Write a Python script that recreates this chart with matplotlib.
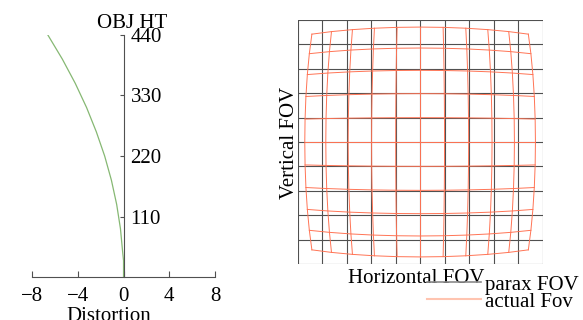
import matplotlib
matplotlib.use('Agg')
import matplotlib.pyplot as plt
import matplotlib.transforms as mtransforms
import numpy as np
from matplotlib.lines import Line2D

plt.rcParams['font.family'] = ['Liberation Serif', 'DejaVu Serif']

# distortion curve (percent) vs object height
obj_ht = [0, 30, 44, 88, 132, 176, 220, 264, 308, 352, 396, 440]
distortion = [0, 0, -0.07, -0.27, -0.6, -1.06, -1.65, -2.38, -3.23, -4.22, -5.35, -6.62]
x_ticks = [-8, -4, 0, 4, 8]
x_labels = ['\u22128', '\u22124', '0', '4', '8']
y_ticks = [110, 220, 330, 440]

# grid (normalized field), distortion read at edge of field
grid_pos = [-1.0, -0.8, -0.6, -0.4, -0.2, 0.0, 0.2, 0.4, 0.6, 0.8, 1.0]
edge_dist = -0.058

grey = '#505050'
red = '#ff7455'
fs = 15

fig = plt.figure(figsize=(5.83, 3.2), dpi=100)

# left: distortion plot
ax1 = fig.add_axes([0.0549, 0.134, 0.314, 0.757])
ax1.plot(distortion, obj_ht, color='#86b873', lw=0.9)
ax1.set_xlim(-8, 8)
ax1.set_ylim(0, 440)
for s in ['top', 'right']:
    ax1.spines[s].set_visible(False)
ax1.spines['left'].set_position(('data', 0))
ax1.spines['left'].set_color(grey)
ax1.spines['bottom'].set_color(grey)
ax1.set_xticks(x_ticks)
ax1.set_xticklabels(x_labels)
ax1.set_yticks(y_ticks)
ax1.tick_params(axis='x', direction='in', length=4, color=grey, labelsize=fs, pad=7)
ax1.tick_params(axis='y', direction='out', length=3, color=grey, labelsize=fs, pad=1)
off = mtransforms.ScaledTranslation(4 / 72 + 0.07, 0, fig.dpi_scale_trans)
for lab in ax1.get_yticklabels():
    lab.set_horizontalalignment('left')
    lab.set_transform(lab.get_transform() + off)
fig.text(132 / 583, 1 - 28 / 320, 'OBJ HT', ha='center', va='baseline', fontsize=fs)
fig.text(109 / 583, -1 / 320, 'Distortion', ha='center', va='baseline', fontsize=fs)

# right: grid distortion
ax2 = fig.add_axes([0.5106, 0.175, 0.42, 0.7625])
gx, gy = np.meshgrid(grid_pos, grid_pos)
for p in grid_pos:
    ax2.plot([p, p], [-1, 1], color=grey, lw=0.8)
    ax2.plot([-1, 1], [p, p], color=grey, lw=0.8)
scale = 1 + edge_dist * (gx ** 2 + gy ** 2)
dx, dy = gx * scale, gy * scale
for i in range(len(grid_pos)):
    ax2.plot(dx[i, :], dy[i, :], color=red, lw=0.7)
    ax2.plot(dx[:, i], dy[:, i], color=red, lw=0.7)
ax2.set_xlim(-1, 1)
ax2.set_ylim(-1, 1)
ax2.set_xticks([])
ax2.set_yticks([])
for s in ax2.spines.values():
    s.set_visible(False)
fig.text(416 / 583, 1 - 283 / 320, 'Horizontal FOV', ha='center', va='baseline', fontsize=fs)
fig.text(290 / 583, 1 - 143 / 320, 'Vertical FOV', ha='center', va='center', rotation=90, fontsize=fs)

handles = [Line2D([], [], color='#8a8a8a', lw=1.2), Line2D([], [], color='#ffc4b0', lw=1.5)]
fig.legend(handles, ['parax FOV', 'actual Fov'], loc='upper left', bbox_to_anchor=(427 / 583, 1 - 275 / 320),
           frameon=False, fontsize=fs, handlelength=2.6, handletextpad=0.2, borderpad=0,
           labelspacing=-0.12, borderaxespad=0)

fig.savefig('out.png', dpi=100)
